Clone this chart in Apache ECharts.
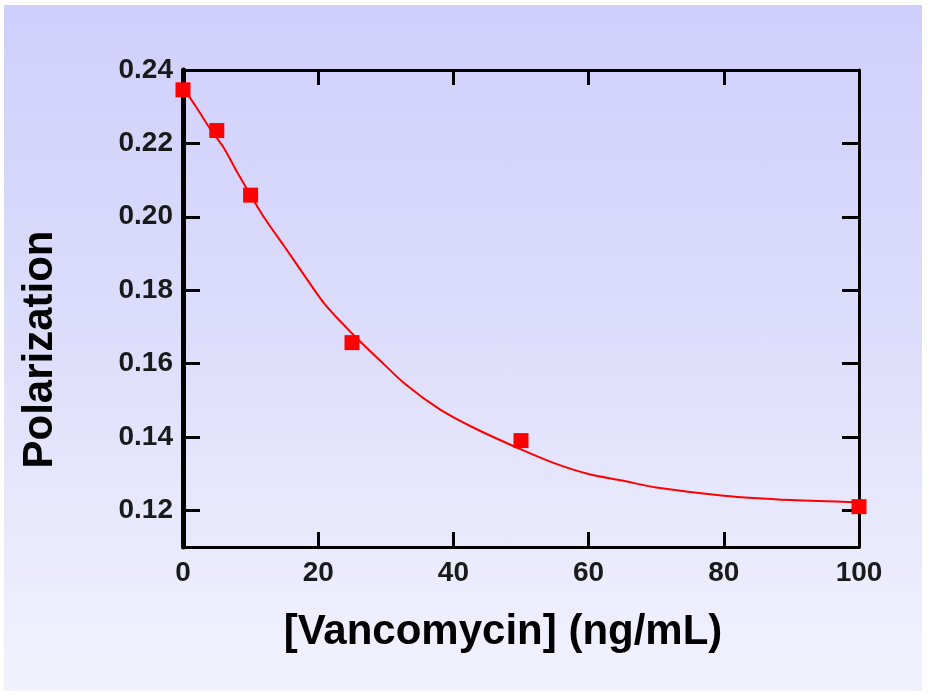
<!DOCTYPE html>
<html>
<head>
<meta charset="utf-8">
<script src="https://cdn.jsdelivr.net/npm/echarts@6/dist/echarts.min.js"></script>
<style>
body { margin: 0; background: #ffffff; }
#bg {
    position: absolute; left: 4px; top: 5px; width: 918px; height: 686px;
    background: linear-gradient(to bottom, #cfcffc 0%, #dcdcfb 45%, #f2f2fe 100%);
}
#chart { position: absolute; left: 0; top: 0; width: 928px; height: 695px; }
</style>
</head>
<body>
<div id="bg"></div>
<div id="chart"></div>
<script>
// measured points
const concX = [0, 5, 10, 25, 50, 100];
const polarY = [0.2346, 0.2235, 0.2059, 0.1657, 0.1390, 0.1210];

// fitted curve
const fitX = [0, 2, 4, 6, 8, 10, 12, 15, 18, 21, 25, 29, 33, 38, 43, 50, 55, 60, 65, 70, 80, 90, 100];
const fitY = [0.2352, 0.2298, 0.2240, 0.2189, 0.2122, 0.2059, 0.1998, 0.1919, 0.1839, 0.1761, 0.1682, 0.1611,
    0.1542, 0.1475, 0.1425, 0.1366, 0.1328, 0.1299, 0.1281, 0.1262, 0.1240, 0.1228, 0.1222];

const yTicks = [0.12, 0.14, 0.16, 0.18, 0.20, 0.22, 0.24];

const font = '"Liberation Sans", Arial, sans-serif';

let chart = echarts.init(document.querySelector('#chart'));
chart.setOption({
    animation: false,
    grid: { left: 183, right: 69, top: 70, bottom: 148 },
    xAxis: [
        {
            type: 'value', min: 0, max: 100, interval: 20,
            name: '[Vancomycin] (ng/mL)',
            nameLocation: 'middle', nameGap: 64,
            nameTextStyle: { fontFamily: font, fontSize: 42, fontWeight: 'bold', color: '#000', padding: [0, 36, 0, 0] },
            axisLine: { onZero: false, lineStyle: { color: '#000', width: 3 } },
            axisTick: { inside: true, length: 15, lineStyle: { color: '#000', width: 3 } },
            axisLabel: { fontFamily: font, fontSize: 28, fontWeight: 'bold', color: '#1a1a1a', margin: 12 },
            splitLine: { show: false }
        },
        {
            type: 'value', min: 0, max: 100, interval: 20, position: 'top',
            axisLine: { onZero: false, lineStyle: { color: '#000', width: 3 } },
            axisTick: { inside: true, length: 15, lineStyle: { color: '#000', width: 3 } },
            axisLabel: { show: false },
            splitLine: { show: false }
        }
    ],
    yAxis: [
        {
            type: 'value', min: 0.11, max: 0.24,
            name: 'Polarization',
            nameLocation: 'middle', nameGap: 122, nameRotate: 90,
            nameTextStyle: { fontFamily: font, fontSize: 42, fontWeight: 'bold', color: '#000', padding: [0, 82, 0, 0] },
            axisLine: { onZero: false, lineStyle: { color: '#000', width: 5 } },
            axisTick: { inside: true, length: 17, customValues: yTicks, lineStyle: { color: '#000', width: 3 } },
            axisLabel: {
                fontFamily: font, fontSize: 28, fontWeight: 'bold', color: '#1a1a1a', margin: 10,
                customValues: yTicks,
                formatter: v => v.toFixed(2)
            },
            splitLine: { show: false }
        },
        {
            type: 'value', min: 0.11, max: 0.24, position: 'right',
            axisLine: { onZero: false, lineStyle: { color: '#000', width: 3 } },
            axisTick: { inside: true, length: 17, customValues: yTicks, lineStyle: { color: '#000', width: 3 } },
            axisLabel: { show: false },
            splitLine: { show: false }
        }
    ],
    series: [
        {
            type: 'line',
            data: fitX.map((x, i) => [x, fitY[i]]),
            smooth: 0.3,
            showSymbol: false,
            lineStyle: { color: '#ff0000', width: 2 },
            z: 2
        },
        {
            type: 'scatter',
            data: concX.map((x, i) => [x, polarY[i]]),
            symbol: 'rect',
            symbolSize: 15,
            itemStyle: { color: '#ff0000', opacity: 1 },
            z: 3
        }
    ]
});
</script>
</body>
</html>
